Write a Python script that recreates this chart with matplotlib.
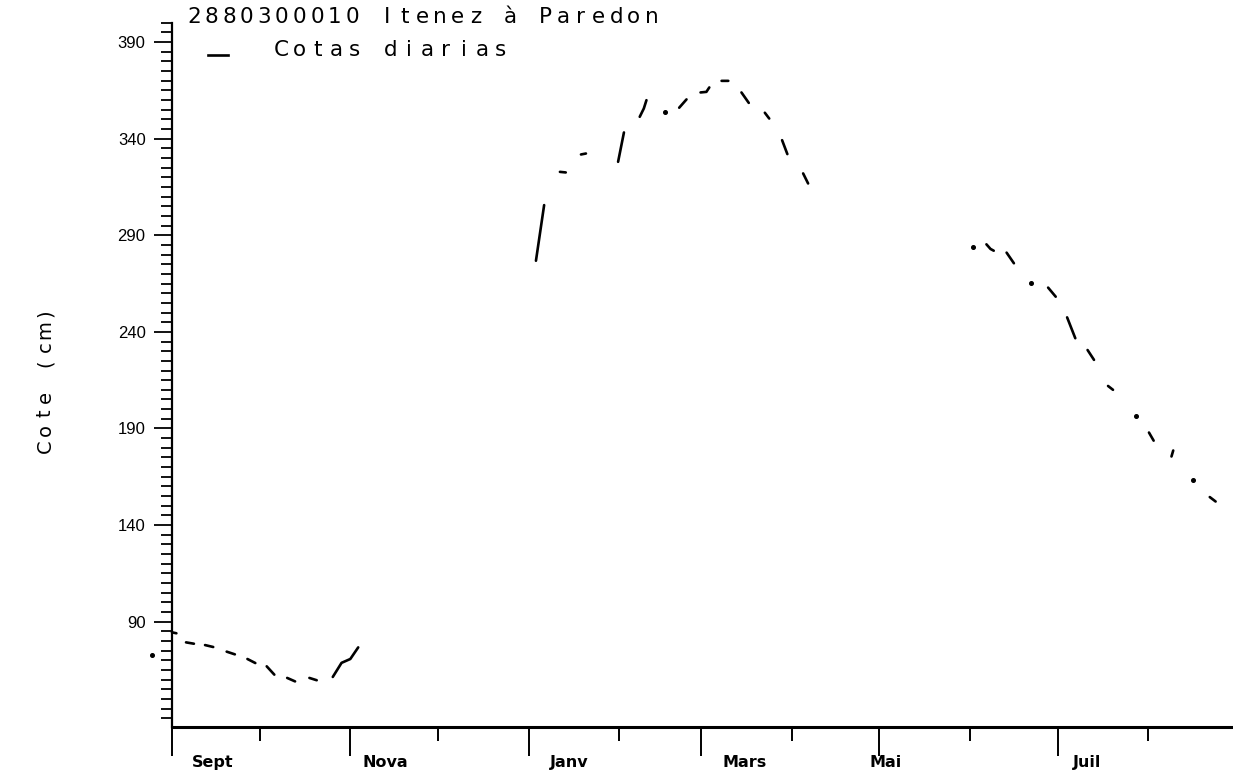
import numpy as np
import matplotlib
matplotlib.use("Agg")
import matplotlib.pyplot as plt
from matplotlib.ticker import FixedLocator, MultipleLocator

W, H = 1233, 778

# jours comptes depuis le 1er septembre, nan = pas de mesure
jours = [-7, np.nan,
         0, 1.5, np.nan,
         4.8, 7.5, np.nan,
         11.3, 14.1, np.nan,
         18.7, 21.5, np.nan,
         25.8, 28.5, np.nan,
         32.4, 35, np.nan,
         39.4, 42.1, np.nan,
         47, 49.5, np.nan,
         55, 58, 61, 63.7, np.nan,
         124.5, 127.3, np.nan,
         132.7, 134.7, np.nan,
         139.9, 141.6, np.nan,
         152.6, 154.6, np.nan,
         160, 161.4, 162.3, np.nan,
         168.8, np.nan,
         173.5, 176, np.nan,
         180.8, 182.8, 183.8, np.nan,
         188, 190.3, np.nan,
         194.8, 197.3, np.nan,
         202.8, 204.3, np.nan,
         208.7, 210.5, np.nan,
         215.9, 217.6, np.nan,
         274, np.nan,
         278.6, 280, 281.1, np.nan,
         285.5, 288, np.nan,
         293.8, np.nan,
         299.7, 302.3, np.nan,
         306.2, 309, np.nan,
         313.2, 315.4, np.nan,
         320.2, 321.9, np.nan,
         329.7, np.nan,
         334.2, 335.8, np.nan,
         341.9, 342.5, np.nan,
         349.3, np.nan,
         355, 357]
cotes = [73, np.nan,
         84.5, 84, np.nan,
         79.3, 78.6, np.nan,
         77.9, 76.9, np.nan,
         74.5, 73.1, np.nan,
         70.7, 68.6, np.nan,
         66.9, 62.6, np.nan,
         60.9, 59.1, np.nan,
         60.9, 59.7, np.nan,
         61.4, 68.7, 70.7, 76.7, np.nan,
         276.8, 305.6, np.nan,
         322.8, 322.5, np.nan,
         331.8, 332.3, np.nan,
         328, 343.2, np.nan,
         351.3, 355.6, 359.9, np.nan,
         353.9, np.nan,
         356, 360.3, np.nan,
         363.9, 364.2, 366.5, np.nan,
         369.9, 369.9, np.nan,
         363.9, 358.5, np.nan,
         353.4, 350.4, np.nan,
         339.2, 332, np.nan,
         322, 316.8, np.nan,
         283.7, np.nan,
         285.3, 282.9, 282, np.nan,
         281, 275.5, np.nan,
         265.4, np.nan,
         262.9, 258.2, np.nan,
         247.5, 236.7, np.nan,
         230.6, 225.5, np.nan,
         212, 210, np.nan,
         196.2, np.nan,
         187.9, 183.7, np.nan,
         175.5, 178.6, np.nan,
         163.1, np.nan,
         154.5, 152.2]

mois_majeurs = [0, 61, 122, 181, 242, 303]
mois_mineurs = [30, 91, 153, 212, 273, 334]
mois_noms = ["Sept", "Nova", "Janv", "Mars", "Mai", "Juil"]
mois_pos = [14, 73, 136, 196, 244, 313]

titre = "2880300010 Itenez à Paredon"
legende = "Cotas diarias"
ylabel = "Cote (cm)"


def px(x, y):
    return x / W, 1 - y / H


def texte_espace(fig, x0, y, s, pas, vertical=False, **kw):
    # un caractere a la fois, pas fixe en pixels (police large de l'original)
    for i, c in enumerate(s):
        if vertical:
            fx, fy = px(x0, y - pas * (i + 0.5))
            fig.text(fx, fy, c, rotation=90, ha="center", va="center", **kw)
        else:
            fx, fy = px(x0 + pas * (i + 0.5), y)
            fig.text(fx, fy, c, ha="center", va="center", **kw)


fig = plt.figure(figsize=(W / 100, H / 100), dpi=100)
left, bottom = px(172, 727)
ax = fig.add_axes([left, bottom, 1067 / W, (727 - 22.7) / H])

x = np.array(jours, dtype=float)
y = np.array(cotes, dtype=float)
ax.plot(x, y, color="black", lw=1.9, solid_capstyle="round", clip_on=False)

# points isoles (sans voisins)
xp = np.concatenate([[np.nan], x, [np.nan]])
seul = np.isnan(xp[:-2]) & np.isnan(xp[2:]) & ~np.isnan(x)
ax.plot(x[seul], y[seul], "o", color="black", ms=2.6, clip_on=False)

ax.set_xlim(0, 365)
ax.set_ylim(35.5, 400)

for s in ["top", "right"]:
    ax.spines[s].set_visible(False)
ax.spines["left"].set_linewidth(1.6)
ax.spines["bottom"].set_linewidth(2.2)

ax.xaxis.set_major_locator(FixedLocator(mois_majeurs))
ax.xaxis.set_minor_locator(FixedLocator(mois_mineurs))
ax.set_xticklabels([])
ax.tick_params(axis="x", which="major", direction="out", length=21, width=1.4)
ax.tick_params(axis="x", which="minor", direction="out", length=10, width=1.4)

ax.yaxis.set_major_locator(FixedLocator(np.arange(90, 391, 50)))
ax.yaxis.set_minor_locator(MultipleLocator(5))
ax.tick_params(axis="y", which="major", direction="out", length=13, width=1.3,
               labelsize=12, pad=6)
ax.tick_params(axis="y", which="minor", direction="out", length=8, width=1.3)
for lab in ax.get_yticklabels():
    lab.set_family("Liberation Sans")

for pos, nom in zip(mois_pos, mois_noms):
    ax.text(pos, -0.05, nom, transform=ax.get_xaxis_transform(),
            ha="center", va="center", fontsize=11.5,
            family=["Liberation Sans Narrow", "DejaVu Sans"], fontweight="bold")

# titre, legende et nom d'axe
texte_espace(fig, 185, 17, titre, 17.6, family="DejaVu Sans", fontsize=15.5)
texte_espace(fig, 272, 50, legende, 18.3, family="DejaVu Sans", fontsize=15.5)
lx0, ly = px(208, 55)
lx1, _ = px(228, 55)
fig.add_artist(plt.Line2D([lx0, lx1], [ly, ly], color="black", lw=1.9))
texte_espace(fig, 45, 455, ylabel, 16.7, vertical=True,
             family="DejaVu Sans", fontsize=14)

fig.savefig("out.png", dpi=100)
